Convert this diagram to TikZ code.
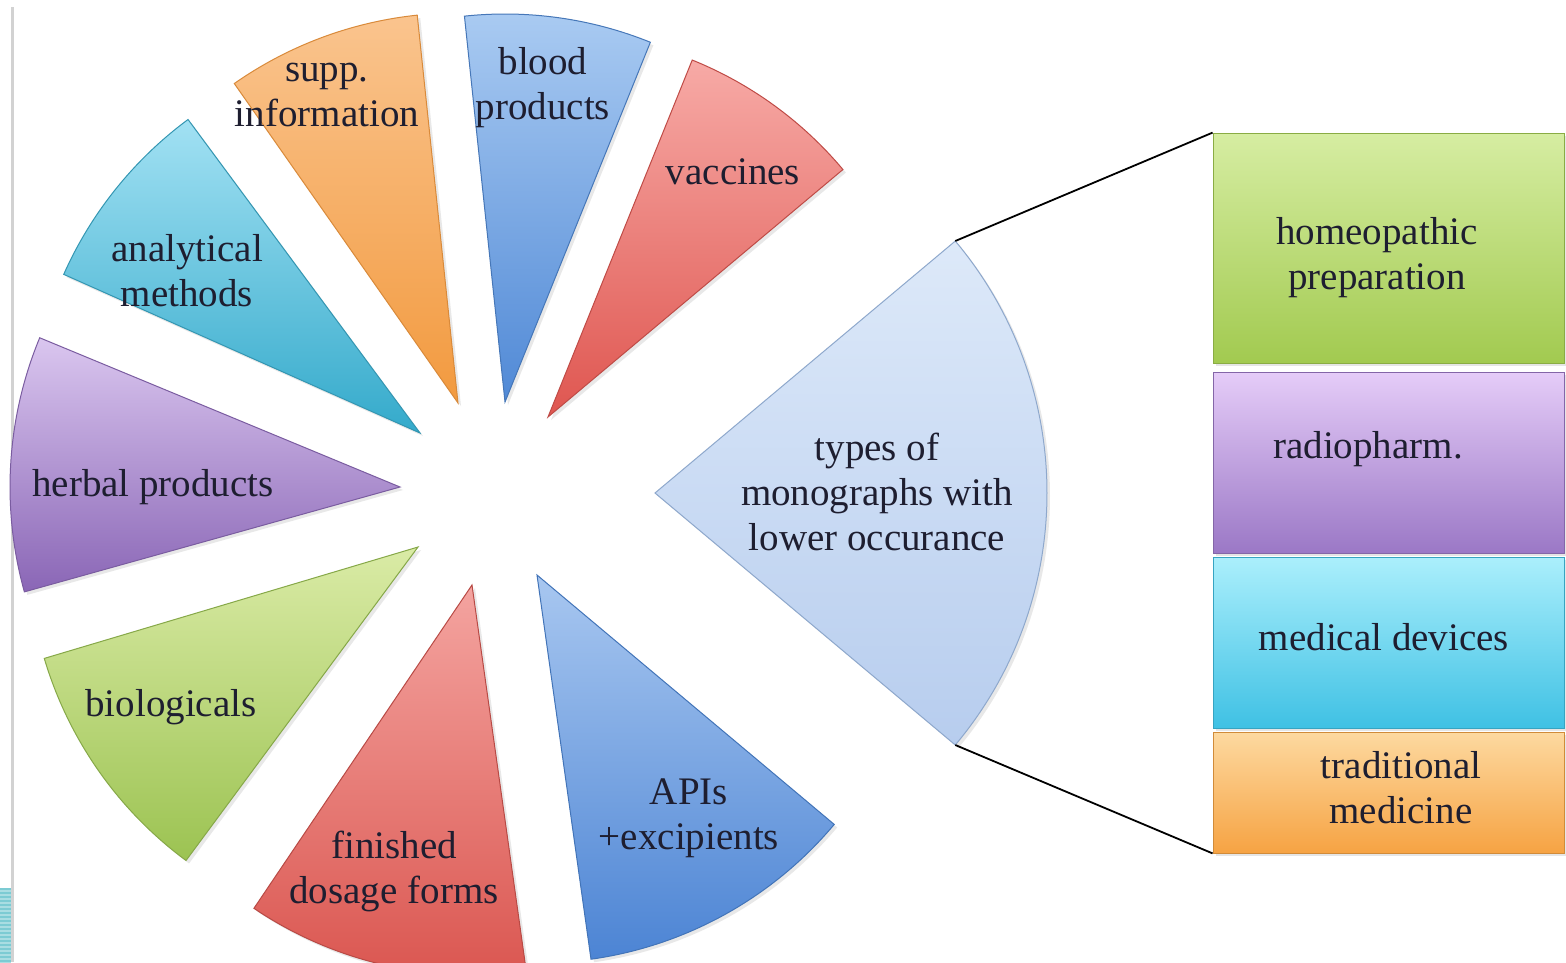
\documentclass[tikz,border=0pt]{standalone}
\usepackage{fontspec}
\setmainfont{Liberation Serif}
\usetikzlibrary{shadows}
\definecolor{txt}{HTML}{1E1E30}
\definecolor{orT}{HTML}{FAC48E}\definecolor{orB}{HTML}{F29A3F}\definecolor{orD}{HTML}{D98A3A}
\definecolor{blT}{HTML}{AACBF2}\definecolor{blB}{HTML}{5089D6}\definecolor{blD}{HTML}{4677B8}
\definecolor{rdT}{HTML}{F7AAA6}\definecolor{rdB}{HTML}{DF5650}\definecolor{rdD}{HTML}{BF4B46}
\definecolor{cyT}{HTML}{A2E1F3}\definecolor{cyB}{HTML}{34AACB}\definecolor{cyD}{HTML}{3396B2}
\definecolor{puT}{HTML}{DAC6EF}\definecolor{puB}{HTML}{8A66B6}\definecolor{puD}{HTML}{7A5CA0}
\definecolor{grT}{HTML}{DAEBA6}\definecolor{grB}{HTML}{9CC352}\definecolor{grD}{HTML}{86A848}
\definecolor{fdT}{HTML}{F4A4A0}\definecolor{fdB}{HTML}{DA554F}\definecolor{fdD}{HTML}{B84A45}
\definecolor{apT}{HTML}{A8C7F0}\definecolor{apB}{HTML}{4C84D4}\definecolor{apD}{HTML}{4274B8}
\definecolor{lbT}{HTML}{DDE9F9}\definecolor{lbB}{HTML}{B7CDEE}\definecolor{lbD}{HTML}{8EA8CC}
\definecolor{bgT}{HTML}{D6EDA2}\definecolor{bgB}{HTML}{A2CA50}
\definecolor{bpT}{HTML}{E5CCF8}\definecolor{bpB}{HTML}{9B78C6}
\definecolor{bcT}{HTML}{ABEFFC}\definecolor{bcB}{HTML}{3FC1E4}
\definecolor{boT}{HTML}{FDD9A0}\definecolor{boB}{HTML}{F6A343}
\definecolor{patchA}{HTML}{7CCBD3}\definecolor{patchB}{HTML}{A9DDE2}
\tikzset{
  wedge/.style={line width=1pt, drop shadow={shadow xshift=3pt, shadow yshift=-3pt, opacity=0.18}},
  lbl/.style={font=\fontsize{39}{45}\selectfont, align=center, text=txt, inner sep=0pt},
  box/.style={minimum width=351pt, inner sep=0pt, draw=#1, line width=0.8pt,
    drop shadow={shadow xshift=3pt, shadow yshift=-3pt, opacity=0.2}},
  link/.style={line width=1.8pt, black}
}
\begin{document}
\begin{tikzpicture}[x=1pt,y=1pt]
\path[use as bounding box] (0,0) rectangle (1566,-962);
\clip (0,0) rectangle (1566,-962);
\fill[white] (0,0) rectangle (1566,-962);
% slide border artefacts
\fill[gray!35] (11,-7) rectangle (13.5,-962);
\fill[patchA] (0,-888) rectangle (11,-962);
\foreach \s in {0,...,18} {\fill[patchB] (0,-890-4*\s) rectangle (11,-891.5-4*\s);}

% wedges
\path[wedge, top color=orT, bottom color=orB, draw=orD]
  (458,-403) -- ++(96:390pt) arc[start angle=96, end angle=125, radius=390pt] -- cycle;
\path[wedge, top color=blT, bottom color=blB, draw=blD]
  (505,-402) -- ++(68:388pt) arc[start angle=68, end angle=96, radius=388pt] -- cycle;
\path[wedge, top color=rdT, bottom color=rdB, draw=rdD]
  (548,-417) -- ++(40:385pt) arc[start angle=40, end angle=68, radius=385pt] -- cycle;
\path[wedge, top color=cyT, bottom color=cyB, draw=cyD]
  (420,-433) -- ++(126.5:390pt) arc[start angle=126.5, end angle=156, radius=390pt] -- cycle;
\path[wedge, top color=puT, bottom color=puB, draw=puD]
  (400,-487) -- ++(157.5:390pt) arc[start angle=157.5, end angle=195.6, radius=390pt] -- cycle;
\path[wedge, top color=grT, bottom color=grB, draw=grD]
  (418,-547) -- ++(196.6:390pt) arc[start angle=196.6, end angle=233.5, radius=390pt] -- cycle;
\path[wedge, top color=fdT, bottom color=fdB, draw=fdD]
  (472,-585) -- ++(236:390pt) arc[start angle=236, end angle=278, radius=390pt] -- cycle;
\path[wedge, top color=apT, bottom color=apB, draw=apD]
  (537,-575) -- ++(278:388pt) arc[start angle=278, end angle=320, radius=388pt] -- cycle;
\path[wedge, top color=lbT, bottom color=lbB, draw=lbD]
  (655,-493) -- ++(-40:392pt) arc[start angle=-40, end angle=40, radius=392pt] -- cycle;

\coordinate (bigT) at (955.3,-241);
\coordinate (bigB) at (955.3,-745);

% wedge labels
\node[lbl] (supp) at (327,-95) {supp.\\information};
\node[lbl] (blood) at (543,-88) {blood\\products};
\node[lbl] (vacc) at (733,-172) {vaccines};
\node[lbl] (anal) at (187,-271) {analytical\\methods};
\node[lbl] (herb) at (153,-487) {herbal products};
\node[lbl] (bio) at (171,-707) {biologicals};
\node[lbl] (fin) at (394,-871) {finished\\dosage forms};
\node[lbl] (api) at (689,-818) {APIs\\+excipients};
\node[lbl] (types) at (877,-492) {types of\\monographs with\\lower occurance};

% boxes
\node[box=bgB!85!black, minimum height=230pt, top color=bgT, bottom color=bgB] (homeo) at (1388.5,-248) {};
\node[box=bpB!85!black, minimum height=181pt, top color=bpT, bottom color=bpB] (radio) at (1388.5,-462.5) {};
\node[box=bcB!85!black, minimum height=171pt, top color=bcT, bottom color=bcB] (medic) at (1388.5,-642.5) {};
\node[box=boB!85!black, minimum height=121pt, top color=boT, bottom color=boB] (trad) at (1388.5,-792.5) {};

\node[lbl] (homeoT) at (1377,-258) {homeopathic\\preparation};
\node[lbl] (radioT) at (1368,-449) {radiopharm.};
\node[lbl] (medicT) at (1384,-637) {medical devices};
\node[lbl] (tradT) at (1401,-788) {traditional\\medicine};

% connectors
\draw[link] (bigT) -- (homeo.north west);
\draw[link] (bigB) -- (trad.south west);
\end{tikzpicture}
\end{document}
